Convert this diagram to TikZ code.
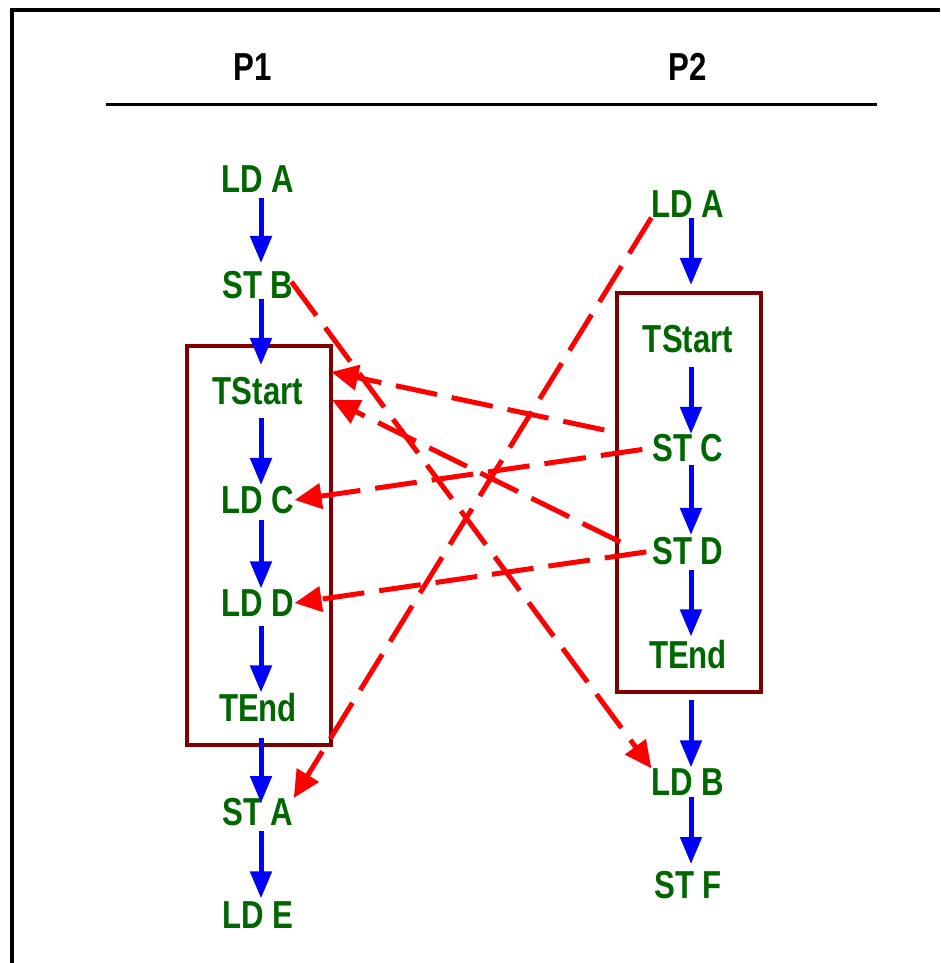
\documentclass[tikz,border=0pt]{standalone}
\usepackage{fontspec}
\setmainfont[FakeStretch=0.8]{Liberation Sans}
\usepackage{tikz}
\usetikzlibrary{arrows.meta,calc}
\definecolor{opgreen}{RGB}{0,102,0}
\definecolor{txred}{RGB}{128,0,0}
\tikzset{
  op/.style={text=opgreen, inner sep=0pt, font=\fontsize{39}{40}\selectfont\bfseries},
  hdr/.style={op, text=black},
  seq/.style={-{Triangle[length=27pt, width=21pt]}, blue, line width=5pt},
  dep/.style={-{Triangle[length=27pt, width=25pt]}, red, line width=5pt,
    dash pattern=on 42pt off 15pt},
  txbox/.style={draw=txred, line width=4pt}
}

\begin{document}
\begin{tikzpicture}[x=1pt, y=-1pt]
  \useasboundingbox (0,0) rectangle (940,963);
  % outer frame and header rule
  \draw[line width=4pt] (12,963) -- (12,10) -- (940,10);
  \node[hdr] (p1) at (253,67) {P1};
  \node[hdr] (p2) at (688,67) {P2};
  \draw[line width=3pt] (106,105) -- (877,105);

  % transaction boxes
  \draw[txbox] (187,346) rectangle (331,745);
  \draw[txbox] (617,293) rectangle (761,692);

  % P1
  \foreach \n/\y/\t in {a1/179/LD A, b1/285/ST B, ts1/391/TStart, c1/500/LD C,
                        d1/603/LD D, te1/708/TEnd, sa1/812/ST A, e1/915/LD E}
    \node[op] (\n) at (258,\y) {\t};
  % P2
  \foreach \n/\y/\t in {a2/204/LD A, ts2/339/TStart, c2/448/ST C, d2/551/ST D,
                        te2/655/TEnd, b2/782/LD B, f2/885/ST F}
    \node[op] (\n) at (688,\y) {\t};

  % program order
  \foreach \u/\v/\s/\e in {a1/b1/5/8, b1/ts1/0/12, ts1/c1/13/1, c1/d1/6/1,
                           d1/te1/9/1, te1/sa1/15/-5, sa1/e1/5/3,
                           a2/ts2/0/40, ts2/c2/14/0, c2/d2/3/2, d2/te2/5/4,
                           te2/b2/30/1, b2/f2/1/7}
    \draw[seq, shorten <=\s pt, shorten >=\e pt]
      ([xshift=3pt]\u.south) -- ([xshift=3pt]\u.south |- \v.north);

  % conflicts between the two threads
  \draw[dep, shorten <=-4pt] (b1.east) -- (b2.north west);
  \draw[dep] ($(c2.west)+(-48,-18)$) -- ($(ts1.east)+(28,-19)$);
  \draw[dep] ($(d2.west)+(-32,-9)$) -- ($(ts1.east)+(29,9)$);
  \draw[dep, shorten <=10pt] (c2.west) -- (c1.east);
  \draw[dep, shorten <=6pt] (d2.west) -- (d1.east);
  \draw[dep] (a2.south west) -- (sa1.north east);
\end{tikzpicture}
\end{document}
